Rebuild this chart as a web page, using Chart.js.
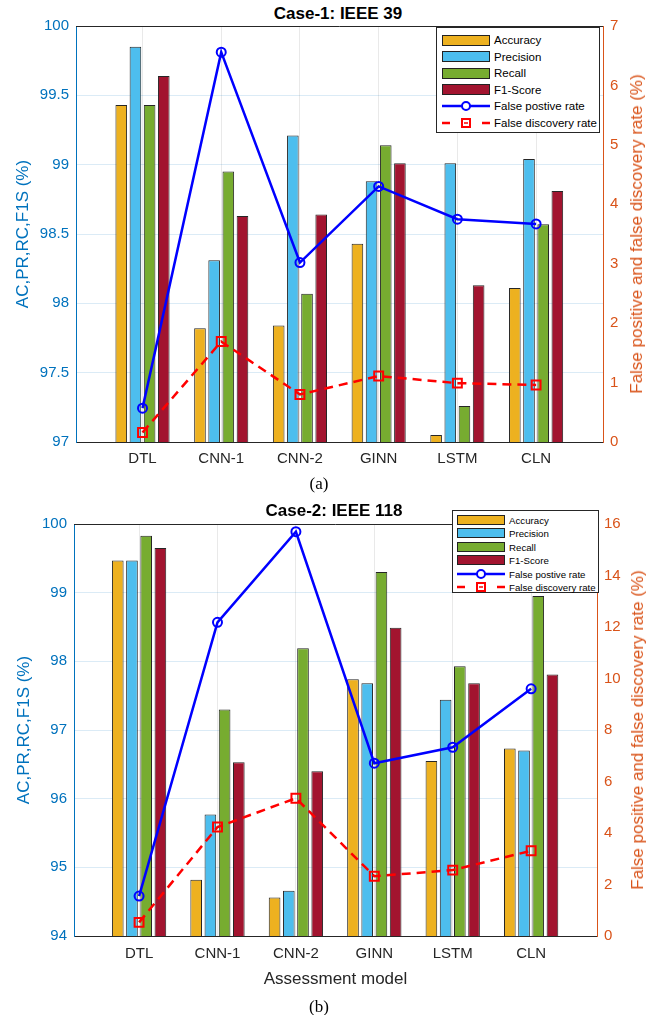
<!DOCTYPE html>
<html>
<head>
<meta charset="utf-8">
<script src="https://cdn.jsdelivr.net/npm/chart.js@4.4.1/dist/chart.umd.min.js"></script>
<style>
  body { margin: 0; background: #fff; font-family: "Liberation Sans", Arial, sans-serif; }
  #page { position: relative; width: 662px; height: 1015px; overflow: hidden; }
  canvas { position: absolute; left: 0; }
  .title { position: absolute; font-weight: bold; font-size: 17px; color: #000; transform: translate(-50%, -50%); white-space: nowrap; }
  .caption { position: absolute; font-family: "Liberation Serif", "Times New Roman", serif; font-size: 17px; color: #000; transform: translate(-50%, -50%); }
  .ytitle { position: absolute; font-size: 17px; color: #D95319; white-space: nowrap; transform: translate(-50%, -50%) rotate(-90deg); }
  .legend { position: absolute; background: #fff; border: 1px solid #262626; box-sizing: border-box; }
  .legend .sw { position: absolute; box-sizing: border-box; border: 1px solid #222; }
  .legend .lbl { position: absolute; white-space: nowrap; color: #000; transform: translateY(-50%); }
  .legend svg { position: absolute; overflow: visible; }
</style>
</head>
<body>
<div id="page">
  <div class="title" style="left:338px; top:14px;">Case-1: IEEE 39</div>
  <canvas id="chart1" width="662" height="475" style="top:0px;"></canvas>
  <div class="ytitle" style="left:637px; top:234px;">False positive and false discovery rate (%)</div>
  <div class="legend" id="legend1"></div>
  <div class="caption" style="left:319px; top:484px;">(a)</div>

  <div class="title" style="left:334px; top:511px;">Case-2: IEEE 118</div>
  <canvas id="chart2" width="662" height="520" style="top:495px;"></canvas>
  <div class="ytitle" style="left:638px; top:730px;">False positive and false discovery rate (%)</div>
  <div class="legend" id="legend2"></div>
  <div class="caption" style="left:319px; top:1007px;">(b)</div>
</div>

<script>
// categories and series names
const models = ['DTL', 'CNN-1', 'CNN-2', 'GINN', 'LSTM', 'CLN'];
const seriesNames = ['Accuracy', 'Precision', 'Recall', 'F1-Score', 'False postive rate', 'False discovery rate'];
const barColors = ['#EDB120', '#4DBEEE', '#77AC30', '#A2142F'];

// Case-1: IEEE 39
const case1Accuracy  = [99.43, 97.82, 97.84, 98.43, 97.05, 98.11];
const case1Precision = [99.85, 98.31, 99.21, 98.88, 99.01, 99.04];
const case1Recall    = [99.43, 98.95, 98.07, 99.14, 97.26, 98.57];
const case1F1        = [99.64, 98.63, 98.64, 99.01, 98.13, 98.81];
const case1FPR       = [0.57, 6.56, 3.02, 4.30, 3.75, 3.67];
const case1FDR       = [0.16, 1.69, 0.80, 1.11, 0.99, 0.96];

// Case-2: IEEE 118
const case2Accuracy  = [99.47, 94.82, 94.56, 97.74, 96.55, 96.73];
const case2Precision = [99.47, 95.77, 94.66, 97.68, 97.44, 96.70];
const case2Recall    = [99.83, 97.30, 98.19, 99.30, 97.93, 98.95];
const case2F1        = [99.65, 96.53, 96.40, 98.49, 97.68, 97.81];
const case2FPR       = [1.55, 12.18, 15.70, 6.71, 7.33, 9.60];
const case2FDR       = [0.53, 4.23, 5.35, 2.32, 2.56, 3.31];

// axis ranges: [min, max, step]
const case1LeftAxis  = [97, 100, 0.5];
const case1RightAxis = [0, 7, 1];
const case2LeftAxis  = [94, 100, 1];
const case2RightAxis = [0, 16, 2];

Chart.defaults.font.family = '"Liberation Sans", Arial, sans-serif';

// top edge of the axes box
const frameTop = {
  id: 'frameTop',
  afterDraw(chart) {
    const { ctx, chartArea: a } = chart;
    ctx.save();
    ctx.strokeStyle = '#262626';
    ctx.lineWidth = 1;
    ctx.beginPath();
    ctx.moveTo(a.left, Math.round(a.top) + 0.5);
    ctx.lineTo(a.right, Math.round(a.top) + 0.5);
    ctx.stroke();
    ctx.restore();
  }
};

function points(vals) {
  return vals.map((v, i) => ({ x: i, y: v }));
}

function makeChart(id, geo, bars, fpr, fdr, left, right, xTitle) {
  const datasets = bars.map((vals, k) => ({
    type: 'bar',
    label: seriesNames[k],
    data: points(vals),
    backgroundColor: barColors[k],
    borderColor: '#262626',
    borderWidth: 1,
    yAxisID: 'y',
    order: 2,
    categoryPercentage: geo.catPct,
    barPercentage: 0.82
  }));
  datasets.push({
    type: 'line',
    label: seriesNames[4],
    data: points(fpr),
    yAxisID: 'y1',
    borderColor: '#0000FF',
    borderWidth: 2.5,
    pointStyle: 'circle',
    pointRadius: 4.5,
    pointBorderWidth: 2,
    pointBorderColor: '#0000FF',
    pointBackgroundColor: 'rgba(0,0,0,0)',
    tension: 0,
    clip: false,
    order: 0
  });
  datasets.push({
    type: 'line',
    label: seriesNames[5],
    data: points(fdr),
    yAxisID: 'y1',
    borderColor: '#FF0000',
    borderWidth: 2.5,
    borderDash: [9, 6],
    pointStyle: 'rect',
    pointRadius: 6.3,
    pointBorderWidth: 2,
    pointBorderColor: '#FF0000',
    pointBackgroundColor: 'rgba(0,0,0,0)',
    tension: 0,
    clip: false,
    order: 1
  });

  return new Chart(document.getElementById(id), {
    type: 'bar',
    data: { datasets: datasets },
    options: {
      responsive: false,
      animation: false,
      devicePixelRatio: 1,
      layout: { padding: { top: geo.top, left: 0, right: 0, bottom: 0 } },
      plugins: { legend: { display: false }, tooltip: { enabled: false } },
      scales: {
        x: {
          type: 'linear',
          bounds: 'data',
          min: geo.xMin,
          max: geo.xMax,
          offset: false,
          afterBuildTicks: s => { s.ticks = models.map((_, i) => ({ value: i })); },
          ticks: {
            callback: v => models[Math.round(v)],
            color: '#262626',
            font: { size: 15 },
            padding: geo.xPad,
            autoSkip: false,
            maxRotation: 0
          },
          grid: { offset: false, color: 'rgba(38,38,38,0.1)', drawTicks: false },
          border: { color: '#262626', width: 1 },
          title: xTitle ? {
            display: true, text: xTitle, color: '#262626',
            font: { size: 17 }, padding: { top: 0, bottom: 25 }
          } : { display: false },
          afterFit: s => { s.height = geo.xH; }
        },
        y: {
          position: 'left',
          min: left[0], max: left[1],
          ticks: {
            stepSize: left[2], color: '#0072BD', font: { size: 15 }, padding: 7,
            callback: v => String(Math.round(v * 10) / 10)
          },
          grid: { color: 'rgba(0,114,189,0.14)', drawTicks: false },
          border: { color: '#0072BD', width: 1 },
          title: {
            display: true, text: 'AC,PR,RC,F1S (%)', color: '#0072BD',
            font: { size: 17 }, padding: { top: geo.lTitle, bottom: 0 }
          },
          afterFit: s => { s.width = geo.left; }
        },
        y1: {
          position: 'right',
          min: right[0], max: right[1],
          ticks: { stepSize: right[2], color: '#D95319', font: { size: 15 }, padding: 7 },
          grid: { drawOnChartArea: false, drawTicks: false },
          border: { color: '#D95319', width: 1 },
          afterFit: s => { s.width = 662 - geo.right; }
        }
      }
    },
    plugins: [frameTop]
  });
}

function buildLegend(id, g) {
  const box = document.getElementById(id);
  box.style.left = g.left + 'px';
  box.style.top = g.top + 'px';
  box.style.width = g.width + 'px';
  box.style.height = g.height + 'px';
  seriesNames.forEach((name, k) => {
    const cy = g.firstRow + k * g.rowGap;
    if (k < 4) {
      const sw = document.createElement('div');
      sw.className = 'sw';
      sw.style.left = g.swX + 'px';
      sw.style.top = (cy - g.swH / 2) + 'px';
      sw.style.width = g.swW + 'px';
      sw.style.height = g.swH + 'px';
      sw.style.background = barColors[k];
      box.appendChild(sw);
    } else {
      const ns = 'http://www.w3.org/2000/svg';
      const svg = document.createElementNS(ns, 'svg');
      svg.setAttribute('width', g.swW);
      svg.setAttribute('height', 12);
      svg.style.left = g.swX + 'px';
      svg.style.top = (cy - 6) + 'px';
      const mid = g.swW / 2;
      let html;
      if (k === 4) {
        html = '<line x1="0" y1="6" x2="' + g.swW + '" y2="6" stroke="#0000FF" stroke-width="2.5"/>' +
               '<circle cx="' + mid + '" cy="6" r="4" fill="#fff" stroke="#0000FF" stroke-width="2"/>';
      } else {
        html = '<line x1="0" y1="6" x2="8" y2="6" stroke="#FF0000" stroke-width="2.5"/>' +
               '<line x1="' + (g.swW - 8) + '" y1="6" x2="' + g.swW + '" y2="6" stroke="#FF0000" stroke-width="2.5"/>' +
               '<rect x="' + (mid - 4) + '" y="2" width="8" height="8" fill="#fff" stroke="#FF0000" stroke-width="2"/>' +
               '<line x1="' + (mid - 2) + '" y1="6" x2="' + (mid + 2) + '" y2="6" stroke="#FF0000" stroke-width="1.5"/>';
      }
      svg.innerHTML = html;
      box.appendChild(svg);
    }
    const lbl = document.createElement('div');
    lbl.className = 'lbl';
    lbl.textContent = name;
    lbl.style.left = g.textX + 'px';
    lbl.style.top = cy + 'px';
    lbl.style.fontSize = g.font + 'px';
    box.appendChild(lbl);
  });
}

makeChart('chart1',
  { top: 26, left: 76, right: 603, xH: 33, xMin: -0.845, xMax: 5.85, catPct: 0.72, xPad: 8, lTitle: 13 },
  [case1Accuracy, case1Precision, case1Recall, case1F1], case1FPR, case1FDR,
  case1LeftAxis, case1RightAxis, null);

makeChart('chart2',
  { top: 29, left: 74, right: 597, xH: 79, xMin: -0.83, xMax: 5.84, catPct: 0.725, xPad: 9, lTitle: 14 },
  [case2Accuracy, case2Precision, case2Recall, case2F1], case2FPR, case2FDR,
  case2LeftAxis, case2RightAxis, 'Assessment model');

buildLegend('legend1', { left: 436, top: 27, width: 164, height: 106, firstRow: 12, rowGap: 16.6,
  swX: 4.5, swW: 48, swH: 11, textX: 57, font: 11.5 });
buildLegend('legend2', { left: 452, top: 510, width: 147, height: 83, firstRow: 9, rowGap: 13.4,
  swX: 4, swW: 48, swH: 10, textX: 56, font: 9.7 });
</script>
</body>
</html>
